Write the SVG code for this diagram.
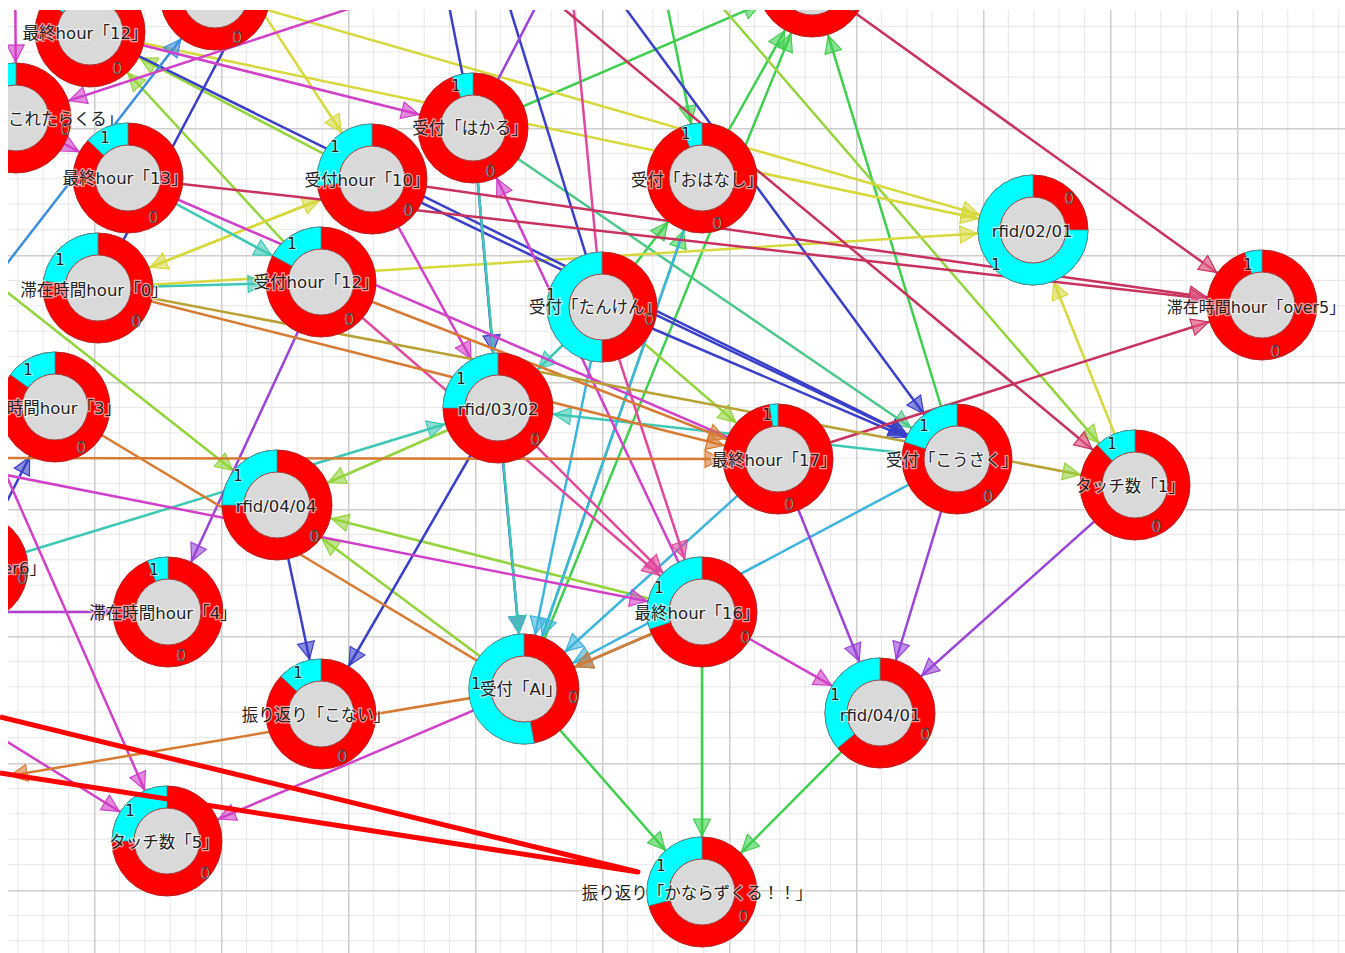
<svg xmlns="http://www.w3.org/2000/svg" width="1345" height="953" viewBox="0 0 1345 953">
<style>
.e{stroke-width:2.5;fill:none;stroke-linecap:round}
.g{stroke:#3fcf4f}.gt{stroke:#4cc88a}.lg{stroke:#93d43c}.y{stroke:#d6d83c}.b{stroke:#3a3fc8}.az{stroke:#3a8fd8}.t{stroke:#3cc8b4}.cb{stroke:#3cb4dc}.p{stroke:#9a44d8}.v{stroke:#b040d0}.m{stroke:#d040c8}.pk{stroke:#e0489c}.cr{stroke:#c8325e}.o{stroke:#d77a32}.ol{stroke:#b9a235}
.r{fill:#ff0000;stroke:#b82020;stroke-width:1}
.c{fill:#00ffff;stroke:#2a9a9a;stroke-width:.8}
.i{fill:#d9d9d9;stroke:#a04040;stroke-width:1}
.lb{font-family:"DejaVu Sans","Noto Sans CJK JP",sans-serif;font-size:16.5px;fill:#222;text-anchor:middle;stroke:#fff;stroke-width:2.5;stroke-opacity:.6;paint-order:stroke}
.n1{font-family:"DejaVu Sans",sans-serif;font-size:15px;fill:#222;text-anchor:middle;stroke:#fff;stroke-width:2;stroke-opacity:.5;paint-order:stroke}
.n0{font-family:"DejaVu Sans",sans-serif;font-size:16px;fill:#fbe4e4;text-anchor:middle;stroke:#552222;stroke-width:.8}
</style>
<defs>
<pattern id="grid" width="127" height="127" patternUnits="userSpaceOnUse" x="94" y="1">
<rect width="127" height="127" fill="#fff"/>
<path d="M25.4,0V127M50.8,0V127M76.2,0V127M101.6,0V127M0,25.4H127M0,50.8H127M0,76.2H127M0,101.6H127" stroke="#e8e8e8" stroke-width="1"/>
<path d="M0.75,0V127M0,0.75H127" stroke="#cdcdcd" stroke-width="1.5"/>
</pattern>
<clipPath id="clip"><rect x="8" y="10" width="1337" height="943"/></clipPath>
<marker id="a-g" viewBox="0 0 17 17" refX="73" refY="8.5" markerWidth="17" markerHeight="17" markerUnits="userSpaceOnUse" orient="auto" overflow="visible"><path d="M0,0L17,8.5L0,17Z" fill="#3fcf4f" fill-opacity=".6" stroke="#3fcf4f" stroke-width="1.2"/></marker>
<marker id="a-gt" viewBox="0 0 17 17" refX="73" refY="8.5" markerWidth="17" markerHeight="17" markerUnits="userSpaceOnUse" orient="auto" overflow="visible"><path d="M0,0L17,8.5L0,17Z" fill="#4cc88a" fill-opacity=".6" stroke="#4cc88a" stroke-width="1.2"/></marker>
<marker id="a-lg" viewBox="0 0 17 17" refX="73" refY="8.5" markerWidth="17" markerHeight="17" markerUnits="userSpaceOnUse" orient="auto" overflow="visible"><path d="M0,0L17,8.5L0,17Z" fill="#93d43c" fill-opacity=".6" stroke="#93d43c" stroke-width="1.2"/></marker>
<marker id="a-y" viewBox="0 0 17 17" refX="73" refY="8.5" markerWidth="17" markerHeight="17" markerUnits="userSpaceOnUse" orient="auto" overflow="visible"><path d="M0,0L17,8.5L0,17Z" fill="#d6d83c" fill-opacity=".6" stroke="#d6d83c" stroke-width="1.2"/></marker>
<marker id="a-b" viewBox="0 0 17 17" refX="73" refY="8.5" markerWidth="17" markerHeight="17" markerUnits="userSpaceOnUse" orient="auto" overflow="visible"><path d="M0,0L17,8.5L0,17Z" fill="#3a3fc8" fill-opacity=".6" stroke="#3a3fc8" stroke-width="1.2"/></marker>
<marker id="a-az" viewBox="0 0 17 17" refX="73" refY="8.5" markerWidth="17" markerHeight="17" markerUnits="userSpaceOnUse" orient="auto" overflow="visible"><path d="M0,0L17,8.5L0,17Z" fill="#3a8fd8" fill-opacity=".6" stroke="#3a8fd8" stroke-width="1.2"/></marker>
<marker id="a-t" viewBox="0 0 17 17" refX="73" refY="8.5" markerWidth="17" markerHeight="17" markerUnits="userSpaceOnUse" orient="auto" overflow="visible"><path d="M0,0L17,8.5L0,17Z" fill="#3cc8b4" fill-opacity=".6" stroke="#3cc8b4" stroke-width="1.2"/></marker>
<marker id="a-cb" viewBox="0 0 17 17" refX="73" refY="8.5" markerWidth="17" markerHeight="17" markerUnits="userSpaceOnUse" orient="auto" overflow="visible"><path d="M0,0L17,8.5L0,17Z" fill="#3cb4dc" fill-opacity=".6" stroke="#3cb4dc" stroke-width="1.2"/></marker>
<marker id="a-p" viewBox="0 0 17 17" refX="73" refY="8.5" markerWidth="17" markerHeight="17" markerUnits="userSpaceOnUse" orient="auto" overflow="visible"><path d="M0,0L17,8.5L0,17Z" fill="#9a44d8" fill-opacity=".6" stroke="#9a44d8" stroke-width="1.2"/></marker>
<marker id="a-v" viewBox="0 0 17 17" refX="73" refY="8.5" markerWidth="17" markerHeight="17" markerUnits="userSpaceOnUse" orient="auto" overflow="visible"><path d="M0,0L17,8.5L0,17Z" fill="#b040d0" fill-opacity=".6" stroke="#b040d0" stroke-width="1.2"/></marker>
<marker id="a-m" viewBox="0 0 17 17" refX="73" refY="8.5" markerWidth="17" markerHeight="17" markerUnits="userSpaceOnUse" orient="auto" overflow="visible"><path d="M0,0L17,8.5L0,17Z" fill="#d040c8" fill-opacity=".6" stroke="#d040c8" stroke-width="1.2"/></marker>
<marker id="a-pk" viewBox="0 0 17 17" refX="73" refY="8.5" markerWidth="17" markerHeight="17" markerUnits="userSpaceOnUse" orient="auto" overflow="visible"><path d="M0,0L17,8.5L0,17Z" fill="#e0489c" fill-opacity=".6" stroke="#e0489c" stroke-width="1.2"/></marker>
<marker id="a-cr" viewBox="0 0 17 17" refX="73" refY="8.5" markerWidth="17" markerHeight="17" markerUnits="userSpaceOnUse" orient="auto" overflow="visible"><path d="M0,0L17,8.5L0,17Z" fill="#e05a86" fill-opacity=".7" stroke="#c8325e" stroke-width="1.2"/></marker>
<marker id="a-o" viewBox="0 0 17 17" refX="73" refY="8.5" markerWidth="17" markerHeight="17" markerUnits="userSpaceOnUse" orient="auto" overflow="visible"><path d="M0,0L17,8.5L0,17Z" fill="#d77a32" fill-opacity=".6" stroke="#d77a32" stroke-width="1.2"/></marker>
<marker id="a-ol" viewBox="0 0 17 17" refX="73" refY="8.5" markerWidth="17" markerHeight="17" markerUnits="userSpaceOnUse" orient="auto" overflow="visible"><path d="M0,0L17,8.5L0,17Z" fill="#93d43c" fill-opacity=".6" stroke="#93d43c" stroke-width="1.2"/></marker>
</defs>
<rect width="1345" height="953" fill="#fff"/>
<g clip-path="url(#clip)">
<rect x="8" y="10" width="1337" height="943" fill="url(#grid)"/>
<g id="connectors" class="e">
<g class="g" marker-end="url(#a-g)">
<line x1="473" y1="128" x2="812" y2="-18"/>
<line x1="702" y1="178" x2="812" y2="-18"/>
<line x1="524" y1="689" x2="812" y2="-18"/>
<line x1="957" y1="459" x2="812" y2="-18"/>
<line x1="650" y1="-80" x2="702" y2="178"/>
<line x1="602" y1="307" x2="702" y2="178"/>
<line x1="524" y1="689" x2="702" y2="178"/>
<line x1="524" y1="689" x2="702" y2="892"/>
<line x1="702" y1="612" x2="702" y2="892"/>
<line x1="880" y1="713" x2="702" y2="892"/>
</g>
<line class="gt" marker-end="url(#a-gt)" x1="473" y1="128" x2="957" y2="459"/>
<g class="lg" marker-end="url(#a-lg)">
<line x1="690" y1="-30" x2="1135" y2="485"/>
<line x1="-40" y1="255" x2="277" y2="505"/>
<line x1="498" y1="408" x2="277" y2="505"/>
<line x1="702" y1="612" x2="277" y2="505"/>
<line x1="524" y1="689" x2="277" y2="505"/>
<line x1="321" y1="282" x2="90" y2="32"/>
<line x1="372" y1="179" x2="90" y2="32"/>
<line x1="602" y1="307" x2="778" y2="459"/>
</g>
<g class="y" marker-end="url(#a-y)">
<line x1="235" y1="-30" x2="372" y2="179"/>
<line x1="215" y1="-5" x2="1033" y2="230"/>
<line x1="90" y1="32" x2="1033" y2="230"/>
<line x1="98" y1="288" x2="1033" y2="230"/>
<line x1="98" y1="288" x2="372" y2="179"/>
<line x1="372" y1="179" x2="98" y2="288"/>
<line x1="1135" y1="485" x2="1033" y2="230"/>
</g>
<g class="b">
<line x1="473" y1="128" x2="440" y2="-40"/>
<line x1="495" y1="-40" x2="602" y2="307"/>
<line x1="266" y1="-30" x2="98" y2="288"/>
</g>
<g class="b" marker-end="url(#a-b)">
<line x1="612" y1="-10" x2="957" y2="459"/>
<line x1="90" y1="32" x2="957" y2="459"/>
<line x1="372" y1="179" x2="957" y2="459"/>
<line x1="602" y1="307" x2="957" y2="459"/>
<line x1="473" y1="128" x2="498" y2="408"/>
<line x1="498" y1="408" x2="524" y2="689"/>
<line x1="498" y1="408" x2="321" y2="714"/>
<line x1="277" y1="505" x2="321" y2="714"/>
<line x1="-27" y1="568" x2="55" y2="407"/>
</g>
<line class="az" marker-end="url(#a-az)" x1="-60" y1="350" x2="215" y2="-5"/>
<g class="t" marker-end="url(#a-t)">
<line x1="128" y1="178" x2="321" y2="282"/>
<line x1="98" y1="288" x2="321" y2="282"/>
<line x1="957" y1="459" x2="498" y2="408"/>
<line x1="-27" y1="568" x2="498" y2="408"/>
<line x1="602" y1="307" x2="498" y2="408"/>
<line x1="473" y1="128" x2="524" y2="689"/>
</g>
<g class="cb" marker-end="url(#a-cb)">
<line x1="602" y1="307" x2="524" y2="689"/>
<line x1="702" y1="178" x2="524" y2="689"/>
<line x1="778" y1="459" x2="524" y2="689"/>
<line x1="957" y1="459" x2="524" y2="689"/>
<line x1="702" y1="612" x2="524" y2="689"/>
</g>
<g class="p" marker-end="url(#a-p)">
<line x1="957" y1="459" x2="880" y2="713"/>
<line x1="778" y1="459" x2="880" y2="713"/>
<line x1="1135" y1="485" x2="880" y2="713"/>
<line x1="321" y1="282" x2="168" y2="612"/>
</g>
<line class="p" x1="473" y1="128" x2="560" y2="-40"/>
<line class="v" marker-end="url(#a-v)" x1="-60" y1="612" x2="168" y2="612"/>
<g class="m" marker-end="url(#a-m)">
<line x1="16" y1="118" x2="128" y2="178"/>
<line x1="15" y1="-60" x2="16" y2="118"/>
<line x1="90" y1="32" x2="473" y2="128"/>
<line x1="400" y1="-8" x2="16" y2="118"/>
<line x1="702" y1="612" x2="473" y2="128"/>
<line x1="-40" y1="370" x2="167" y2="841"/>
<line x1="-60" y1="700" x2="167" y2="841"/>
<line x1="524" y1="689" x2="167" y2="841"/>
<line x1="702" y1="612" x2="880" y2="713"/>
<line x1="372" y1="179" x2="498" y2="408"/>
<line x1="-60" y1="462" x2="702" y2="612"/>
</g>
<line class="m" x1="128" y1="178" x2="778" y2="459"/>
<g class="pk" marker-end="url(#a-pk)">
<line x1="498" y1="408" x2="702" y2="612"/>
<line x1="602" y1="307" x2="702" y2="612"/>
<line x1="321" y1="282" x2="702" y2="612"/>
</g>
<line class="pk" x1="570" y1="-30" x2="602" y2="307"/>
<g class="cr" marker-end="url(#a-cr)">
<line x1="812" y1="-18" x2="1262" y2="305"/>
<line x1="372" y1="179" x2="1262" y2="305"/>
<line x1="128" y1="178" x2="1262" y2="305"/>
<line x1="535" y1="-15" x2="1135" y2="485"/>
<line x1="778" y1="459" x2="1262" y2="305"/>
</g>
<g class="o" marker-end="url(#a-o)">
<line x1="-60" y1="458" x2="778" y2="459"/>
<line x1="524" y1="689" x2="-45" y2="785"/>
<line x1="702" y1="612" x2="524" y2="689"/>
<line x1="98" y1="288" x2="778" y2="459"/>
<line x1="321" y1="282" x2="778" y2="459"/>
</g>
<line class="o" x1="55" y1="407" x2="524" y2="689"/>
<line class="ol" marker-end="url(#a-ol)" x1="98" y1="288" x2="1135" y2="485"/>
</g>

<g id="n-last12" transform="translate(90,32)"><circle class="r" r="55"/><path class="c" d="M0,0V-55A55,55 0 0 0 -44.5,-32.3Z"/><circle class="i" r="33"/><text class="lb" x="-5" y="7">最終hour「12」</text><text class="n0" x="27" y="42">0</text></g>
<g id="n-top215" transform="translate(215,-5)"><circle class="r" r="55"/><circle class="i" r="33"/><text class="n0" x="22" y="48">0</text></g>
<g id="n-top812" transform="translate(812,-18)"><circle class="r" r="55"/><circle class="i" r="33"/><text class="n0" x="41" y="29">0</text></g>
<g id="n-kore" transform="translate(16,118)"><circle class="r" r="55"/><path class="c" d="M0,0V-55A55,55 0 0 0 -32.3,-44.5Z"/><circle class="i" r="33"/><text class="lb" x="-8" y="7" style="text-anchor:start">これたらくる」</text><text class="n0" x="49" y="17">0</text></g>
<g id="n-last13" transform="translate(128,178)"><circle class="r" r="55"/><path class="c" d="M0,0V-55A55,55 0 0 0 -40.1,-37.7Z"/><circle class="i" r="33"/><text class="lb" x="-3" y="6">最終hour「13」</text><text class="n1" x="-23" y="-35">1</text><text class="n0" x="25" y="45">0</text></g>
<g id="n-uke10" transform="translate(372,179)"><circle class="r" r="55"/><path class="c" d="M0,0V-55A55,55 0 0 0 -54.6,6.9Z"/><circle class="i" r="33"/><text class="lb" x="-5" y="7">受付hour「10」</text><text class="n1" x="-37" y="-27">1</text><text class="n0" x="36" y="37">0</text></g>
<g id="n-hakaru" transform="translate(473,128)"><circle class="r" r="55"/><path class="c" d="M0,0V-55A55,55 0 0 0 -20.3,-51.2Z"/><circle class="i" r="33"/><text class="lb" x="-3" y="6">受付「はかる」</text><text class="n1" x="-17" y="-37">1</text><text class="n0" x="17" y="49">0</text></g>
<g id="n-ohanashi" transform="translate(702,178)"><circle class="r" r="55"/><path class="c" d="M0,0V-55A55,55 0 0 0 -20.3,-51.2Z"/><circle class="i" r="33"/><text class="lb" x="-5" y="8">受付「おはなし」</text><text class="n1" x="-16" y="-39">1</text><text class="n0" x="15" y="51">0</text></g>
<g id="n-r0201" transform="translate(1033,230)"><circle class="r" r="55"/><path class="c" d="M0,0V-55A55,55 0 1 0 55,0Z"/><circle class="i" r="33"/><text class="lb" x="-1" y="7">rfid/02/01</text><text class="n0" x="36" y="-26">0</text><text class="n1" x="-37" y="40">1</text></g>
<g id="n-over5" transform="translate(1262,305)"><circle class="r" r="55"/><path class="c" d="M0,0V-55A55,55 0 0 0 -17,-52.3Z"/><circle class="i" r="33"/><text class="lb" x="-6" y="8" style="font-size:16px">滞在時間hour「over5」</text><text class="n1" x="-14" y="-35">1</text><text class="n0" x="13" y="52">0</text></g>
<g id="n-stay0" transform="translate(98,288)"><circle class="r" r="55"/><path class="c" d="M0,0V-55A55,55 0 0 0 -54.6,-6.9Z"/><circle class="i" r="33"/><text class="lb" x="-4" y="8">滞在時間hour「0」</text><text class="n1" x="-38" y="-23">1</text><text class="n0" x="38" y="39">0</text></g>
<g id="n-uke12" transform="translate(321,282)"><circle class="r" r="55"/><path class="c" d="M0,0V-55A55,55 0 0 0 -48.2,-26.5Z"/><circle class="i" r="33"/><text class="lb" x="-5" y="6">受付hour「12」</text><text class="n1" x="-29" y="-33">1</text><text class="n0" x="28" y="43">0</text></g>
<g id="n-tanken" transform="translate(602,307)"><circle class="r" r="55"/><path class="c" d="M0,0V-55A55,55 0 0 0 0,55Z"/><circle class="i" r="33"/><text class="lb" x="-7" y="6">受付「たんけん」</text><text class="n1" x="-51" y="-7">1</text><text class="n0" x="47" y="18">0</text></g>
<g id="n-stay3" transform="translate(55,407)"><circle class="r" r="55"/><path class="c" d="M0,0V-55A55,55 0 0 0 -44.5,-32.3Z"/><circle class="i" r="33"/><text class="lb" x="66" y="7" style="text-anchor:end">時間hour「3」</text><text class="n1" x="-27" y="-32">1</text><text class="n0" x="26" y="46">0</text></g>
<g id="n-r0302" transform="translate(498,408)"><circle class="r" r="55"/><path class="c" d="M0,0V-55A55,55 0 0 0 -55,0Z"/><circle class="i" r="33"/><text class="lb" x="0" y="7">rfid/03/02</text><text class="n1" x="-37" y="-24">1</text><text class="n0" x="37" y="37">0</text></g>
<g id="n-last17" transform="translate(778,459)"><circle class="r" r="55"/><path class="c" d="M0,0V-55A55,55 0 0 0 -8.6,-54.3Z"/><circle class="i" r="33"/><text class="lb" x="-4" y="7">最終hour「17」</text><text class="n1" x="-11" y="-39">1</text><text class="n0" x="11" y="51">0</text></g>
<g id="n-kousaku" transform="translate(957,459)"><circle class="r" r="55"/><path class="c" d="M0,0V-55A55,55 0 0 0 -52.3,-17Z"/><circle class="i" r="33"/><text class="lb" x="-5" y="7">受付「こうさく」</text><text class="n1" x="-33" y="-28">1</text><text class="n0" x="31" y="43">0</text></g>
<g id="n-touch1" transform="translate(1135,485)"><circle class="r" r="55"/><path class="c" d="M0,0V-55A55,55 0 0 0 -37.7,-40.1Z"/><circle class="i" r="33"/><text class="lb" x="-5" y="7">タッチ数「1」</text><text class="n1" x="-23" y="-36">1</text><text class="n0" x="21" y="47">0</text></g>
<g id="n-r0404" transform="translate(277,505)"><circle class="r" r="55"/><path class="c" d="M0,0V-55A55,55 0 0 0 -55,0Z"/><circle class="i" r="33"/><text class="lb" x="-1" y="7">rfid/04/04</text><text class="n1" x="-39" y="-24">1</text><text class="n0" x="37" y="37">0</text></g>
<g id="n-over6" transform="translate(-27,568)"><circle class="r" r="55"/><circle class="i" r="33"/><text class="lb" x="73" y="6" style="text-anchor:end">er6」</text><text class="n0" x="49" y="16">0</text></g>
<g id="n-stay4" transform="translate(168,612)"><circle class="r" r="55"/><path class="c" d="M0,0V-55A55,55 0 0 0 -20.3,-51.2Z"/><circle class="i" r="33"/><text class="lb" x="-5" y="7">滞在時間hour「4」</text><text class="n1" x="-14" y="-37">1</text><text class="n0" x="13" y="49">0</text></g>
<g id="n-last16" transform="translate(702,612)"><circle class="r" r="55"/><path class="c" d="M0,0V-55A55,55 0 0 0 -52.3,17Z"/><circle class="i" r="33"/><text class="lb" x="-5" y="7">最終hour「16」</text><text class="n1" x="-43" y="-19">1</text><text class="n0" x="43" y="31">0</text></g>
<g id="n-konai" transform="translate(321,714)"><circle class="r" r="55"/><path class="c" d="M0,0V-55A55,55 0 0 0 -40.1,-37.7Z"/><circle class="i" r="33"/><text class="lb" x="-5" y="7">振り返り「こない」</text><text class="n1" x="-23" y="-36">1</text><text class="n0" x="21" y="48">0</text></g>
<g id="n-ai" transform="translate(524,689)"><circle class="r" r="55"/><path class="c" d="M0,0V-55A55,55 0 1 0 10.3,54Z"/><circle class="i" r="33"/><text class="lb" x="-3" y="6">受付「AI」</text><text class="n1" x="-48" y="0">1</text><text class="n0" x="49" y="14">0</text></g>
<g id="n-r0401" transform="translate(880,713)"><circle class="r" r="55"/><path class="c" d="M0,0V-55A55,55 0 0 0 -42.4,35Z"/><circle class="i" r="33"/><text class="lb" x="0" y="8">rfid/04/01</text><text class="n1" x="-45" y="-13">1</text><text class="n0" x="45" y="27">0</text></g>
<g id="n-touch5" transform="translate(167,841)"><circle class="r" r="55"/><path class="c" d="M0,0V-55A55,55 0 0 0 -55,0Z"/><circle class="i" r="33"/><text class="lb" x="-3" y="7">タッチ数「5」</text><text class="n1" x="-37" y="-25">1</text><text class="n0" x="38" y="38">0</text></g>
<g id="n-kanarazu" transform="translate(702,892)"><circle class="r" r="55"/><path class="c" d="M0,0V-55A55,55 0 0 0 -53.3,13.7Z"/><circle class="i" r="33"/><text class="lb" x="-5" y="7">振り返り「かならずくる！！」</text><text class="n1" x="-41" y="-21">1</text><text class="n0" x="41" y="30">0</text></g>
</g>
<polyline id="callout" points="0,717 638,872 0,773" fill="none" stroke="#ff0000" stroke-width="5" stroke-linejoin="round" stroke-linecap="butt"/>
</svg>
